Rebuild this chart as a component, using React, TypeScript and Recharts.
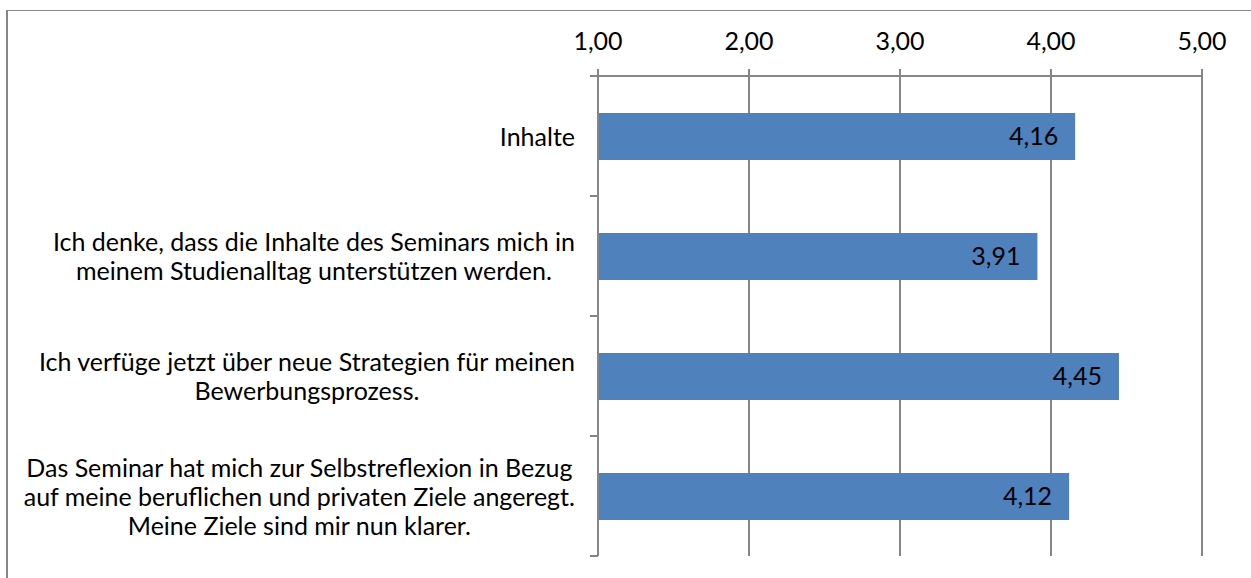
import React from 'react';
import { BarChart, Bar, XAxis, YAxis, CartesianGrid, LabelList } from 'recharts';

const statements = [
  'Inhalte',
  'Ich denke, dass die Inhalte des Seminars mich in\nmeinem Studienalltag unterstützen werden.',
  'Ich verfüge jetzt über neue Strategien für meinen\nBewerbungsprozess.',
  'Das Seminar hat mich zur Selbstreflexion in Bezug\nauf meine beruflichen und privaten Ziele angeregt.\nMeine Ziele sind mir nun klarer.',
];
const means = [4.16, 3.91, 4.45, 4.12];
const scaleTicks = [1, 2, 3, 4, 5];

const data = statements.map((s, i) => ({ name: s, value: means[i] }));

const W = 1251;
const H = 578;
const FONT = 'Lato, "Open Sans", sans-serif';
const FS = 25;
const GRAY = '#868686';
const PLOT_TOP = 76;
const PLOT_BOTTOM = 556;
const BAND = (PLOT_BOTTOM - PLOT_TOP) / statements.length;

const comma = (v: number) => v.toFixed(2).replace('.', ',');

function CategoryTick(props: any) {
  const { x, y, payload, index } = props;
  const lines: string[] = String(payload.value).split('\n');
  const lh = 29;
  return (
    <g>
      <line x1={x} x2={x + 8} y1={y - BAND / 2} y2={y - BAND / 2} stroke={GRAY} strokeWidth={2} />
      {index === statements.length - 1 && (
        <line x1={x} x2={x + 8} y1={y + BAND / 2} y2={y + BAND / 2} stroke={GRAY} strokeWidth={2} />
      )}
      <foreignObject x={0} y={y - 60} width={x - 15} height={120}>
        <div
          style={{
            width: '100%',
            height: '100%',
            display: 'flex',
            justifyContent: 'flex-end',
            alignItems: 'center',
          }}
        >
          <div style={{ textAlign: 'center', fontFamily: FONT, fontSize: FS, lineHeight: `${lh}px`, color: '#000' }}>
            {lines.map((l, i) => (
              <div key={i}>{l}</div>
            ))}
          </div>
        </div>
      </foreignObject>
    </g>
  );
}

export default function App() {
  document.body.style.margin = '0';
  return (
    <div style={{ position: 'relative', width: W, height: H, overflow: 'hidden', background: '#fff' }}>
      <div
        style={{
          position: 'absolute',
          left: 6,
          top: 10,
          width: 1400,
          height: 800,
          borderLeft: `2px solid ${GRAY}`,
          borderTop: `1px solid ${GRAY}`,
        }}
      />
      <div style={{ position: 'absolute', left: 0, top: 0 }}>
        <BarChart
          width={W}
          height={H}
          data={data}
          layout="vertical"
          margin={{ top: 0, right: 49, bottom: H - PLOT_BOTTOM, left: 0 }}
        >
          <CartesianGrid horizontal={false} vertical stroke={GRAY} strokeWidth={2} />
          <XAxis
            type="number"
            orientation="top"
            domain={[1, 5]}
            ticks={scaleTicks}
            height={PLOT_TOP}
            tickFormatter={comma}
            tickSize={7}
            tickMargin={19}
            axisLine={{ stroke: GRAY, strokeWidth: 2 }}
            tickLine={{ stroke: GRAY, strokeWidth: 2 }}
            tick={{ fill: '#000', fontSize: FS, fontFamily: FONT }}
            allowDataOverflow
          />
          <YAxis
            type="category"
            dataKey="name"
            width={598}
            tickLine={false}
            axisLine={{ stroke: GRAY, strokeWidth: 2 }}
            tick={<CategoryTick />}
            interval={0}
          />
          <Bar dataKey="value" fill="#4F81BD" barSize={47} isAnimationActive={false}>
            <LabelList
              dataKey="value"
              position="insideRight"
              offset={17}
              formatter={(v: any) => comma(Number(v))}
              style={{ fill: '#000', fontSize: FS, fontFamily: FONT }}
            />
          </Bar>
        </BarChart>
      </div>
    </div>
  );
}
